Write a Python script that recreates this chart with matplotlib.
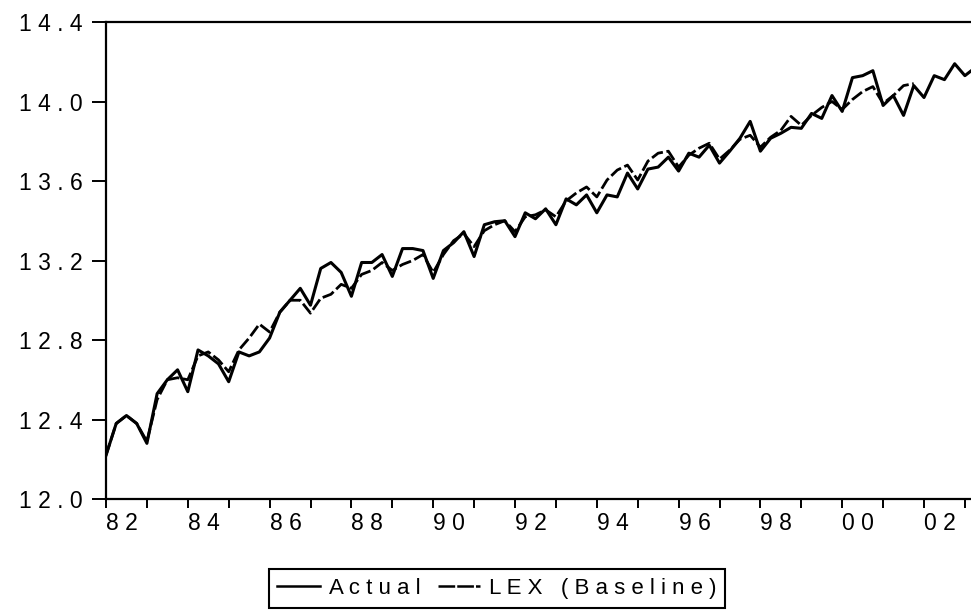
import matplotlib
matplotlib.use("Agg")
import matplotlib.pyplot as plt
from matplotlib.lines import Line2D
import numpy as np

plt.rcParams['font.family'] = ['Liberation Sans', 'DejaVu Sans']
plt.rcParams['lines.scale_dashes'] = False

# Quarterly series, first observation 1982Q1
start_year = 1982
actual = [
    12.22, 12.38, 12.42, 12.38, 12.28, 12.53, 12.60, 12.65,
    12.54, 12.75, 12.72, 12.68, 12.59, 12.74, 12.72, 12.74,
    12.81, 12.94, 13.00, 13.06, 12.975, 13.16, 13.19, 13.14,
    13.02, 13.19, 13.19, 13.23, 13.12, 13.26, 13.26, 13.25,
    13.11, 13.25, 13.29, 13.345, 13.22, 13.38, 13.395, 13.40,
    13.32, 13.44, 13.41, 13.46, 13.38, 13.51, 13.48, 13.53,
    13.44, 13.53, 13.52, 13.64, 13.56, 13.66, 13.67, 13.72,
    13.65, 13.74, 13.72, 13.78, 13.69, 13.75, 13.815, 13.90,
    13.75, 13.815, 13.84, 13.87, 13.865, 13.94, 13.915, 14.03,
    13.95, 14.12, 14.13, 14.155, 13.98, 14.03, 13.93, 14.08,
    14.02, 14.13, 14.11, 14.19, 14.13, 14.17,
]
baseline = [
    12.22, 12.38, 12.42, 12.38, 12.29, 12.50, 12.60, 12.61,
    12.60, 12.72, 12.74, 12.70, 12.64, 12.75, 12.81, 12.88,
    12.84, 12.94, 13.00, 13.00, 12.935, 13.01, 13.03, 13.08,
    13.06, 13.13, 13.15, 13.19, 13.15, 13.18, 13.20, 13.23,
    13.14, 13.23, 13.30, 13.335, 13.27, 13.35, 13.38, 13.40,
    13.345, 13.42, 13.43, 13.455, 13.42, 13.50, 13.54, 13.57,
    13.52, 13.605, 13.655, 13.68, 13.605, 13.70, 13.74, 13.75,
    13.67, 13.73, 13.765, 13.79, 13.71, 13.755, 13.81, 13.83,
    13.77, 13.82, 13.855, 13.925, 13.88, 13.93, 13.97, 14.00,
    13.96, 14.01, 14.05, 14.075, 13.99, 14.03, 14.08, 14.09,
]
series_labels = ["Actual", "LEX (Baseline)"]
y_ticks = [12.0, 12.4, 12.8, 13.2, 13.6, 14.0, 14.4]
tick_years = list(range(1982, 2004))


def tracked(text):
    """Widely letter-spaced text, as in the original graph style."""
    return " ".join(text)


t_actual = start_year + np.arange(len(actual)) / 4.0
t_base = start_year + np.arange(len(baseline)) / 4.0

W, H = 971, 611
fig = plt.figure(figsize=(W / 100, H / 100), dpi=100)
ax = fig.add_axes([106 / W, 1 - 499 / H, 865 / W, (499 - 22) / H])

dash = (0, (9, 2.6))
ax.plot(t_base, baseline, color="black", lw=2.0, linestyle=dash)
ax.plot(t_actual, actual, color="black", lw=2.2)

ax.set_xlim(1982, 1982 + 865 / 40.9)
ax.set_ylim(12.0, 14.4)

for side in ("left", "bottom", "top"):
    ax.spines[side].set_linewidth(1.6)
    ax.spines[side].set_color("black")
ax.spines["right"].set_visible(False)

ax.set_yticks(y_ticks)
ax.set_yticklabels([tracked(f"{v:.1f}") for v in y_ticks])
ax.set_xticks(tick_years)
ax.set_xticklabels([tracked(f"{y % 100:02d}") if y % 2 == 0 else "" for y in tick_years])
for lab in ax.get_xticklabels():
    lab.set_horizontalalignment("left")

ax.tick_params(axis="y", direction="out", length=10, width=1.4, pad=7,
               labelsize=16.5, colors="black")
ax.tick_params(axis="x", direction="out", length=6.5, width=1.4, pad=3,
               labelsize=16.5, colors="black")

handles = [
    Line2D([], [], color="black", lw=1.8),
    Line2D([], [], color="black", lw=1.8, linestyle=(0, (12, 1.5, 12, 1.5, 5, 1.5))),
]
leg = fig.legend(handles, [tracked(s) for s in series_labels],
                 loc="upper center", bbox_to_anchor=(497 / W, 1 - 569 / H),
                 ncol=2, frameon=True, fancybox=False, shadow=False,
                 fontsize=16, handlelength=1.9, handletextpad=0.4,
                 columnspacing=0.8, borderpad=0.4, borderaxespad=0)
leg.get_frame().set_edgecolor("black")
leg.get_frame().set_linewidth(1.5)
leg.get_frame().set_alpha(1)

fig.savefig("out.png", dpi=100, facecolor="white")
